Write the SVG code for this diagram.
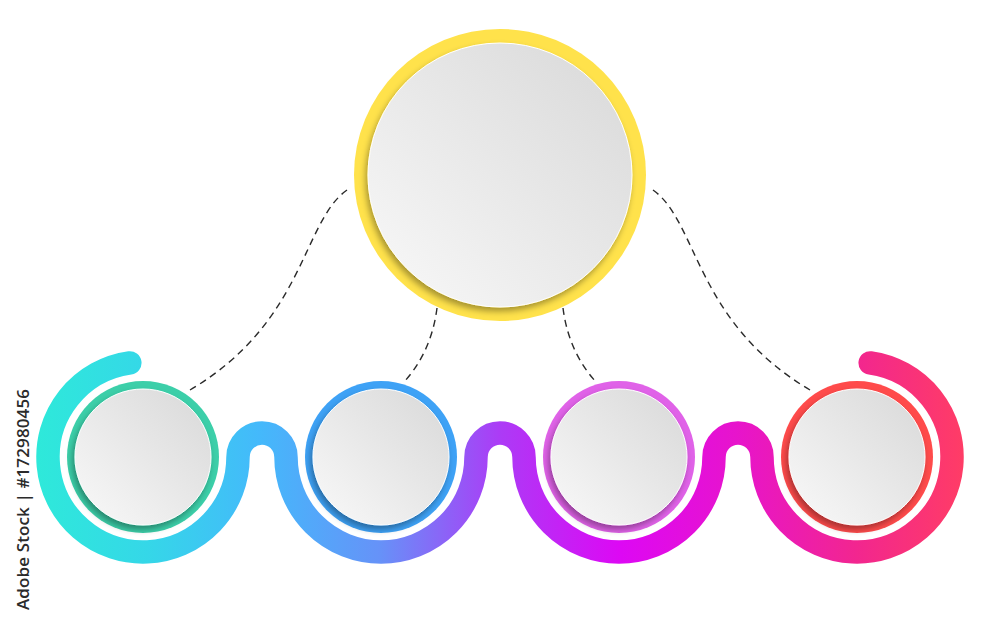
<svg xmlns="http://www.w3.org/2000/svg" width="1000" height="625" viewBox="0 0 1000 625">
  <defs>
    <linearGradient id="band" gradientUnits="userSpaceOnUse" x1="37" y1="0" x2="963" y2="0">
      <stop offset="0" stop-color="#2ee9da"/>
      <stop offset="0.12" stop-color="#35d7e8"/>
      <stop offset="0.24" stop-color="#44b9fb"/>
      <stop offset="0.37" stop-color="#6692f8"/>
      <stop offset="0.5" stop-color="#ac3bf6"/>
      <stop offset="0.63" stop-color="#dd08f4"/>
      <stop offset="0.755" stop-color="#e714cc"/>
      <stop offset="0.885" stop-color="#f2268f"/>
      <stop offset="1" stop-color="#ff3c66"/>
    </linearGradient>
    <linearGradient id="disc" x1="1" y1="0" x2="0" y2="1">
      <stop offset="0" stop-color="#d8d8d8"/>
      <stop offset="1" stop-color="#f9f9f9"/>
    </linearGradient>
    <filter id="shadow" x="-20%" y="-20%" width="140%" height="140%">
      <feDropShadow dx="-2" dy="4" stdDeviation="3" flood-color="#000" flood-opacity="0.35"/>
    </filter>
  </defs>
  <style>
    .disc { fill: url(#disc); stroke: #ffffff; stroke-width: 1; filter: url(#shadow); }
    .conn { fill: none; stroke: #2a2a2a; stroke-width: 1.4; stroke-dasharray: 7 5; }
    .band { fill: none; stroke: url(#band); stroke-width: 23.5; stroke-linecap: round; }
    .credit { font-family: "Open Sans", "DejaVu Sans", sans-serif; font-size: 17px; font-weight: 600; fill: #2b2b2b; }
  </style>
  <rect width="1000" height="625" fill="#ffffff"/>

  <g id="connectors">
    <path class="conn" d="M347,190 C302,222 305,322 190,390"/>
    <path class="conn" d="M437,308 C433,340 420,365 403,383"/>
    <path class="conn" d="M563,308 C567,340 580,365 597,383"/>
    <path class="conn" d="M653,190 C698,222 695,322 810,390"/>
  </g>

  <g id="wave">
    <path class="band" d="M129.8,362.9 A95,95 0 1 0 238,457 A24,24 0 0 1 286,457 A95,95 0 0 0 476,457 A24,24 0 0 1 524,457 A95,95 0 0 0 714,457 A24,24 0 0 1 762,457 A95,95 0 1 0 870.2,362.9"/>
  </g>

  <g id="node-top">
    <circle cx="500" cy="175" r="146" fill="#ffe24b"/>
    <circle class="disc" cx="500" cy="175" r="132"/>
  </g>
  <g id="node-1">
    <circle cx="143" cy="457" r="76" fill="#3ccfa9"/>
    <circle class="disc" cx="143" cy="457" r="68"/>
  </g>
  <g id="node-2">
    <circle cx="381" cy="457" r="76" fill="#3ea2f6"/>
    <circle class="disc" cx="381" cy="457" r="68"/>
  </g>
  <g id="node-3">
    <circle cx="619" cy="457" r="76" fill="#e062e8"/>
    <circle class="disc" cx="619" cy="457" r="68"/>
  </g>
  <g id="node-4">
    <circle cx="857" cy="457" r="76" fill="#ff4b4b"/>
    <circle class="disc" cx="857" cy="457" r="68"/>
  </g>

  <text class="credit" transform="translate(29,610) rotate(-90)" x="0" y="0" textLength="221">Adobe Stock | #172980456</text>
</svg>
